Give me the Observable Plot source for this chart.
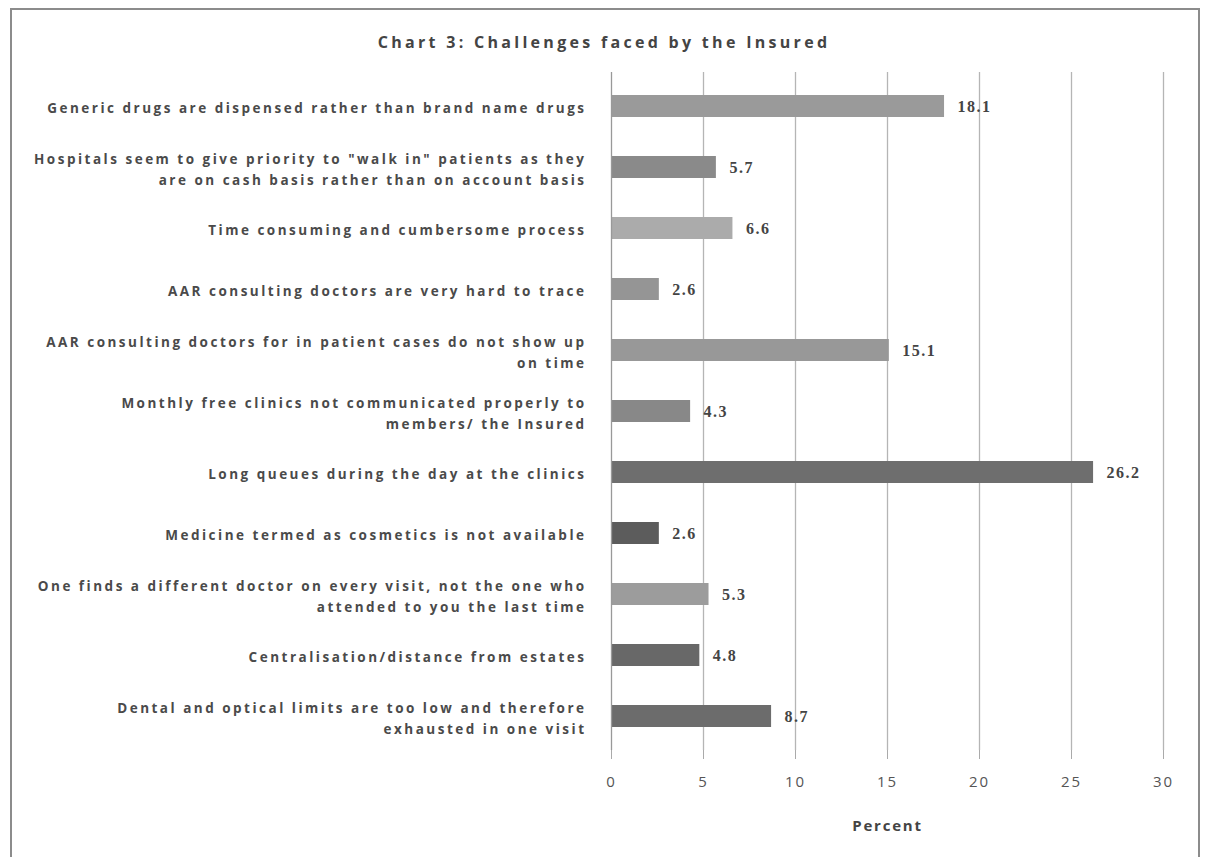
<!DOCTYPE html>
<html>
<head>
<meta charset="utf-8">
<script src="https://cdn.jsdelivr.net/npm/d3@7"></script>
<script src="https://cdn.jsdelivr.net/npm/@observablehq/plot@0.6"></script>
<style>
  html, body { margin: 0; padding: 0; background: #fff; }
  #wrap { position: relative; width: 1208px; height: 857px; overflow: hidden; }
  #frame { position: absolute; left: 10px; top: 8px; width: 1190px; height: 860px; border: 2px solid #8c8c8c; box-sizing: border-box; }
  #title { position: absolute; left: 0; width: 1208px; top: 31px; text-align: center;
           font: bold 16px "Open Sans", sans-serif; color: #444; letter-spacing: 3.3px; }
  #chart { position: absolute; left: 0; top: 0; }
</style>
</head>
<body>
<div id="wrap">
  <div id="frame"></div>
  <div id="title">Chart 3: Challenges faced by the Insured</div>
  <div id="chart"></div>
</div>
<script>
const categories = [
  "Generic drugs are dispensed rather than brand name drugs",
  "Hospitals seem to give priority to \"walk in\" patients as they\nare on cash basis rather than on account basis",
  "Time consuming and cumbersome process",
  "AAR consulting doctors are very hard to trace",
  "AAR consulting doctors for in patient cases do not show up\non time",
  "Monthly free clinics not communicated properly to\nmembers/ the Insured",
  "Long queues during the day at the clinics",
  "Medicine termed as cosmetics is not available",
  "One finds a different doctor on every visit, not the one who\nattended to you the last time",
  "Centralisation/distance from estates",
  "Dental and optical limits are too low and therefore\nexhausted in one visit"
];
const values = [18.1, 5.7, 6.6, 2.6, 15.1, 4.3, 26.2, 2.6, 5.3, 4.8, 8.7];
const barColors = ["#9a9a9a", "#8a8a8a", "#ababab", "#959595", "#989898", "#888888", "#6e6e6e", "#5c5c5c", "#9c9c9c", "#686868", "#6c6c6c"];
const xTicks = [0, 5, 10, 15, 20, 25, 30];

const data = categories.map((c, i) => ({category: c, value: values[i], color: barColors[i]}));

const chart = Plot.plot({
  width: 1208,
  height: 857,
  marginLeft: 611,
  marginRight: 45,
  marginTop: 72,
  marginBottom: 107,
  style: {background: "transparent", color: "#555"},
  x: {domain: [0, 30], ticks: xTicks},
  y: {domain: categories, paddingInner: 0.64, paddingOuter: 0.36},
  marks: [
    Plot.gridX(xTicks.slice(1), {stroke: "#b5b5b5", strokeOpacity: 1, strokeWidth: 1.3}),
    Plot.barX(data, {y: "category", x: "value", fill: "color"}),
    Plot.text(data, {y: "category", x: "value", text: d => d.value.toFixed(1), textAnchor: "start", dx: 13,
      fill: "#444", fontWeight: "bold", fontSize: 16, fontFamily: "Liberation Serif, serif", className: "vlab"}),
    Plot.ruleX([0], {stroke: "#999", strokeWidth: 1.3}),
    Plot.ruleY([0], {frameAnchor: "bottom", stroke: "#aaa", strokeWidth: 1.3}),
    Plot.axisX({ticks: xTicks, tickSize: 9, tickPadding: 17, stroke: "#aaa", strokeOpacity: 1,
      fontSize: 15, fontFamily: "Open Sans, sans-serif", fill: "#555",
      label: "Percent", labelAnchor: "center", labelArrow: "none", labelOffset: 80}),
    Plot.axisY({tickSize: 0, tickPadding: 25, fontSize: 13.5, fontWeight: "bold", lineHeight: 1.55,
      fontFamily: "Open Sans, sans-serif", fill: "#4a4a4a", label: null, lineWidth: 100})
  ]
});
const s = d3.select(chart);
s.selectAll("[aria-label='y-axis tick label'] text").style("letter-spacing", "2.5px");
s.selectAll("[aria-label='x-axis tick label'] text").style("letter-spacing", "2px");
s.selectAll(".vlab text").style("letter-spacing", "1.5px");
s.selectAll("[aria-label='x-axis label'] text").attr("font-weight", "bold").attr("fill", "#444").style("letter-spacing", "1.8px");
document.getElementById("chart").appendChild(chart);
</script>
</body>
</html>
